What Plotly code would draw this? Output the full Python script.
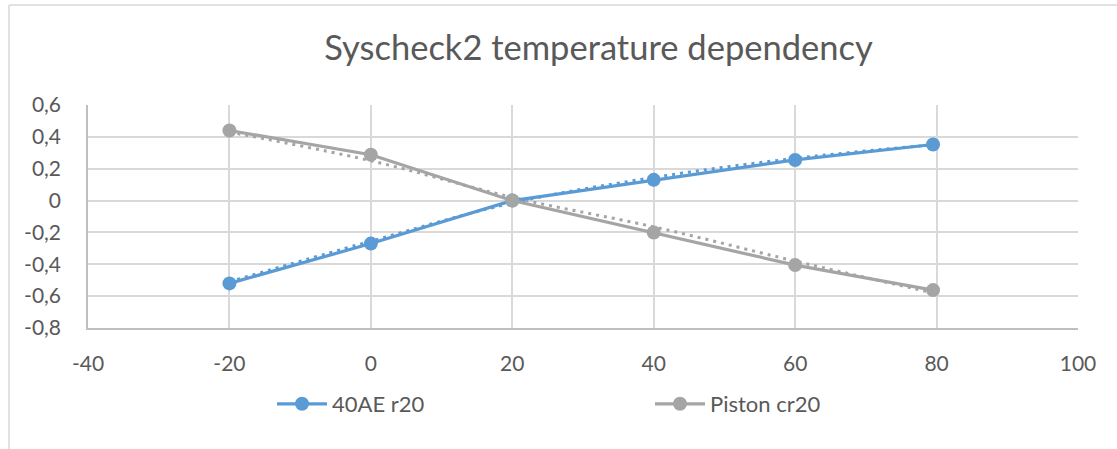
import plotly.graph_objects as go

# ---- data ----
temps = [-20, 0, 20, 40, 60, 79.5]
ae40_r20 = [-0.52, -0.27, 0.0, 0.13, 0.255, 0.352]
piston_cr20 = [0.44, 0.288, 0.0, -0.20, -0.405, -0.562]

# trendline values (dotted) at the same temperatures
ae40_trend = [-0.51, -0.255, -0.015, 0.145, 0.265, 0.35]
piston_trend = [0.43, 0.25, 0.02, -0.165, -0.38, -0.58]

x_ticks = [-40, -20, 0, 20, 40, 60, 80, 100]
x_ticktext = ["-40", "-20", "0", "20", "40", "60", "80", "100"]
y_ticks = [-0.8, -0.6, -0.4, -0.2, 0, 0.2, 0.4, 0.6]
y_ticktext = ["-0,8", "-0,6", "-0,4", "-0,2", "0", "0,2", "0,4", "0,6"]

title_text = "Syscheck2 temperature dependency"
names = ["40AE r20", "Piston cr20"]

BLUE = "#5B9BD5"
GRAY = "#A5A5A5"
TXT = "#595959"
GRID = "#D9D9D9"
FONT = "Lato, 'Open Sans', sans-serif"

fig = go.Figure()

# trendlines (dotted)
fig.add_trace(go.Scatter(x=temps, y=ae40_trend, mode="lines", showlegend=False,
                         hoverinfo="skip", line=dict(color=BLUE, width=3, dash="3px,5px", shape="spline")))
fig.add_trace(go.Scatter(x=temps, y=piston_trend, mode="lines", showlegend=False,
                         hoverinfo="skip", line=dict(color=GRAY, width=3, dash="3px,5px", shape="spline")))

# main series
fig.add_trace(go.Scatter(x=temps, y=ae40_r20, mode="lines+markers", name=names[0],
                         line=dict(color=BLUE, width=3.2),
                         marker=dict(color=BLUE, size=14, line=dict(width=0))))
fig.add_trace(go.Scatter(x=temps, y=piston_cr20, mode="lines+markers", name=names[1],
                         line=dict(color=GRAY, width=3.2),
                         marker=dict(color=GRAY, size=14, line=dict(width=0))))

# chart frame (left and top edges)
L, R, T, B = 88, 1078, 105, 328
pw, ph = R - L, B - T
def px(xp):
    return (xp - L) / pw
def py(yp):
    return (B - yp) / ph

fig.add_shape(type="line", xref="paper", yref="paper", x0=px(9), x1=px(9), y0=py(449), y1=py(5),
              line=dict(color=GRID, width=1.5))
fig.add_shape(type="line", xref="paper", yref="paper", x0=px(9), x1=px(1117), y0=py(5), y1=py(5),
              line=dict(color=GRID, width=1.5))

fig.update_layout(
    width=1117, height=449,
    margin=dict(l=L, r=1117 - R, t=T, b=449 - B),
    paper_bgcolor="white", plot_bgcolor="white",
    font=dict(family=FONT, color=TXT, size=21),
    title=dict(text=title_text, x=598.5 / 1117, xanchor="center",
               y=1 - 48 / 449, yanchor="middle",
               font=dict(family=FONT, size=34.5, color=TXT)),
    legend=dict(orientation="h", x=px(272), xanchor="left", y=py(404), yanchor="middle",
                entrywidth=313, entrywidthmode="pixels", itemwidth=50,
                font=dict(family=FONT, size=22, color=TXT), bgcolor="rgba(0,0,0,0)"),
    xaxis=dict(range=[-40, 100], tickvals=x_ticks, ticktext=x_ticktext,
               showgrid=True, gridcolor=GRID, gridwidth=1.5,
               showline=True, linecolor="#BFBFBF", linewidth=1.5, mirror=False,
               zeroline=False, ticks="", ticklabelstandoff=16, automargin=False),
    yaxis=dict(range=[-0.8, 0.6], tickvals=y_ticks, ticktext=y_ticktext,
               showgrid=True, gridcolor=GRID, gridwidth=1.5,
               showline=True, linecolor="#BFBFBF", linewidth=1.5,
               zeroline=False, ticks="", ticklabelstandoff=21, automargin=False),
)

fig.write_html("out.html", config={"displayModeBar": False},
               post_script="document.body.style.margin='0';")
